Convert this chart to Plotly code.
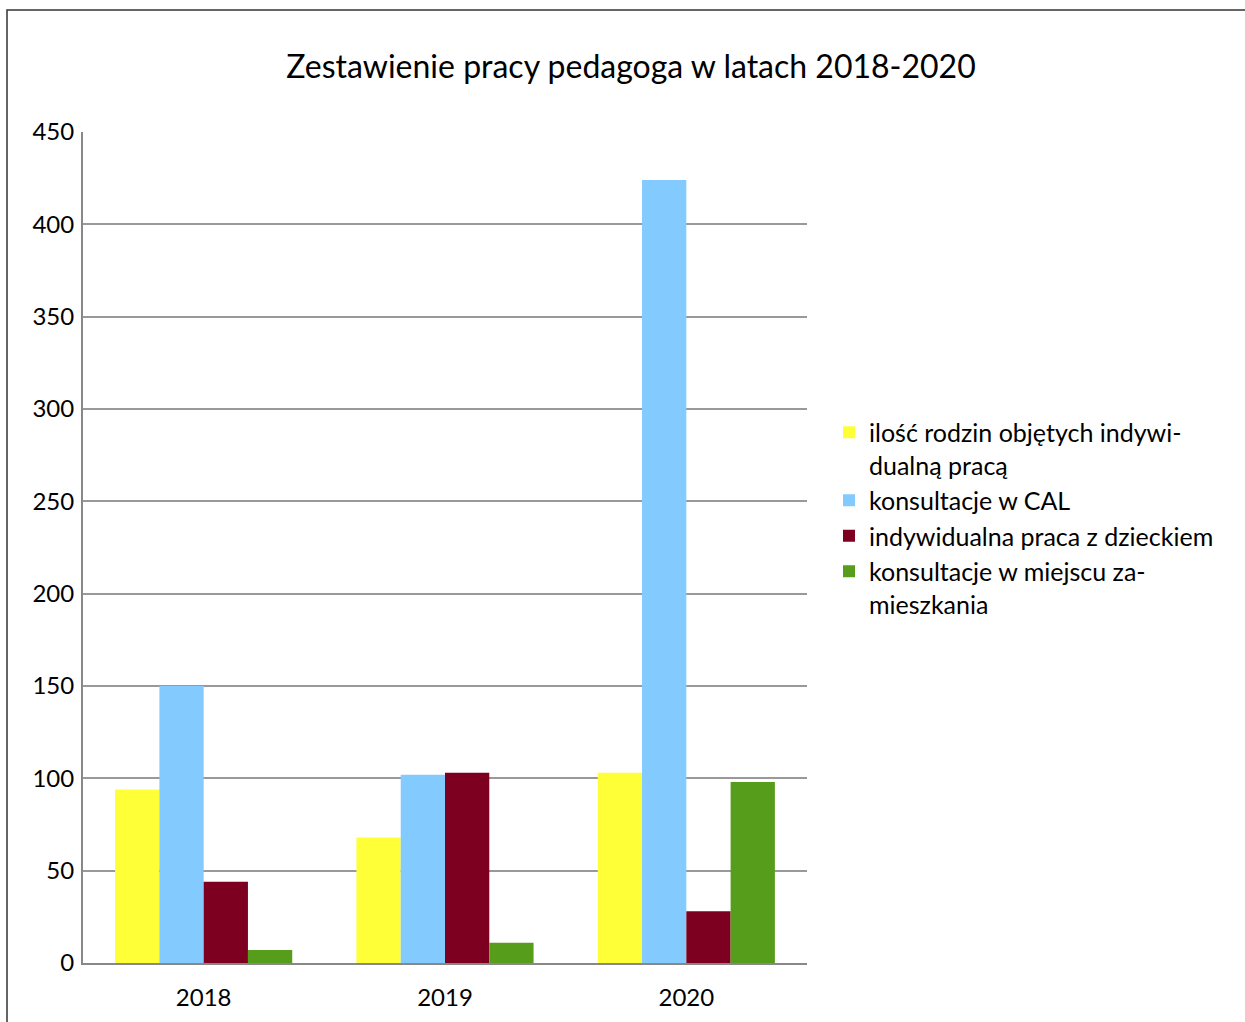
import plotly.graph_objects as go

years = ["2018", "2019", "2020"]
series_names = [
    "ilość rodzin objętych indywi-<br>dualną pracą",
    "konsultacje w CAL",
    "indywidualna praca z dzieckiem",
    "konsultacje w miejscu za-<br>mieszkania",
]
rodziny = [94, 68, 103]
cal = [150, 102, 424]
dziecko = [44, 103, 28]
miejsce = [7, 11, 98]
colors = ["#FFFF38", "#83CAFF", "#7E0021", "#579D1C"]
y_ticks = [0, 50, 100, 150, 200, 250, 300, 350, 400, 450]

FONT = "Lato"
fig = go.Figure()
for name, vals, c in zip(series_names, [rodziny, cal, dziecko, miejsce], colors):
    fig.add_trace(go.Bar(x=years, y=vals, name=name, marker=dict(color=c, line=dict(width=0))))

W, H = 1245, 1022
L, R, T, B = 83, 807, 132, 963
pw, ph = R - L, B - T

fig.update_layout(
    width=W, height=H,
    margin=dict(l=L, r=W - R, t=T, b=H - B, autoexpand=False),
    paper_bgcolor="white", plot_bgcolor="white",
    barmode="group", bargap=0.266, bargroupgap=0,
    font=dict(family=FONT, color="#000000", size=24),
    title=dict(text="Zestawienie pracy pedagoga w latach 2018-2020",
               x=(631 - L) / pw, xref="paper", xanchor="center",
               y=1 - 67 / H, yanchor="middle",
               font=dict(family=FONT, size=32, color="#000000")),
    showlegend=True,
    legend=dict(x=(829 - L) / pw, xanchor="left", y=(B - 518) / ph, yanchor="middle",
                font=dict(family=FONT, size=25, color="#000000"), valign="top",
                bgcolor="rgba(0,0,0,0)", itemwidth=30, traceorder="normal"),
    xaxis=dict(showgrid=False, showline=True, linecolor="#888888", linewidth=2,
               ticks="", tickfont=dict(family=FONT, size=24), ticklabelstandoff=12),
    yaxis=dict(range=[0, 450], tickvals=y_ticks, showgrid=True, gridcolor="#999999",
               gridwidth=2, showline=True, linecolor="#888888", linewidth=2,
               zeroline=False, ticks="", tickfont=dict(family=FONT, size=24),
               ticklabelstandoff=2),
)
fig.add_shape(type="rect", xref="paper", yref="paper",
              x0=(7 - L) / pw, x1=(W + 20 - L) / pw,
              y0=(B - (H + 20)) / ph, y1=(B - 10) / ph,
              line=dict(color="#333333", width=1.5), fillcolor="rgba(0,0,0,0)", layer="below")
fig.write_html("out.html", config={"displayModeBar": False},
               post_script="document.body.style.margin='0';")
